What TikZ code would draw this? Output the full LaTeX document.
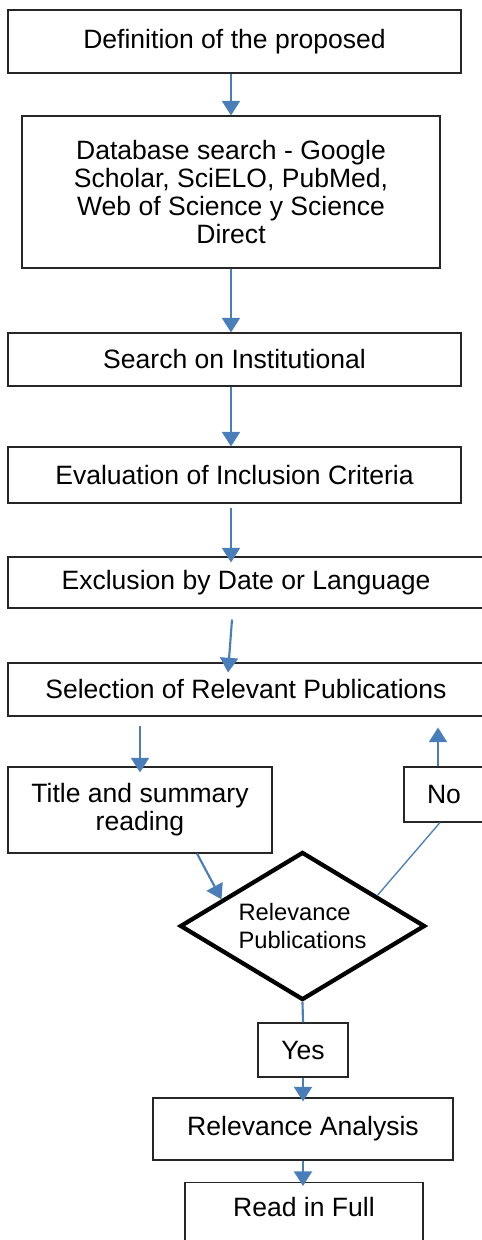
\documentclass[tikz,border=0pt]{standalone}
\usepackage{fontspec}
\setmainfont{Liberation Sans}
\usetikzlibrary{arrows.meta,shapes.geometric,calc}
\definecolor{flowblue}{RGB}{74,126,187}
\begin{document}
\begin{tikzpicture}[x=0.75pt,y=-0.75pt,
  box/.style={draw=black!85,line width=0.8pt,fill=white,inner sep=0pt,align=center,font=\fontsize{19.9}{21}\selectfont},
  decision/.style={diamond,draw=black,line width=3.2pt,fill=white,inner sep=0pt,aspect=1.66,align=left,font=\fontsize{17.8}{21}\selectfont},
  arr/.style={draw=flowblue,line width=1.6pt,-{Triangle[width=13.5pt,length=11pt]}},
  link/.style={draw=flowblue,line width=1.6pt}]
\useasboundingbox (0,0) rectangle (482,1240);
\node[box,minimum width=339.75pt,minimum height=47.25pt] (def) at (234.5,41.5) {Definition of the proposed};
\node[box,minimum width=313.5pt,minimum height=114pt] (dbsearch) at (231,192) {Database search - Google\\Scholar, SciELO, PubMed,\\Web of Science y Science\\Direct};
\node[box,minimum width=339.75pt,minimum height=39.75pt] (inst) at (234.5,359.5) {Search on Institutional};
\node[box,minimum width=339.75pt,minimum height=42pt] (incl) at (234.5,475) {Evaluation of Inclusion Criteria};
\node[box,minimum width=357pt,minimum height=38.25pt] (excl) at (246,582.5) {Exclusion by Date or Language};
\node[box,minimum width=357pt,minimum height=39.75pt] (sel) at (246,689.5) {Selection of Relevant Publications};
\node[box,minimum width=198pt,minimum height=64.5pt] (title) at (140,810) {Title and summary\\reading};
\node[box,minimum width=60pt,minimum height=41.25pt] (no) at (444,794.5) {No};
\node[decision,minimum width=183.75pt,minimum height=111pt] (dia) at (302.5,926) {Relevance\\Publications};
\node[box,minimum width=67.5pt,minimum height=40.5pt] (yes) at (303,1050) {Yes};
\node[box,minimum width=225pt,minimum height=46.5pt] (ra) at (303,1129) {Relevance Analysis};
\node[box,minimum width=178.5pt,text height=25.5pt,text depth=27pt,anchor=north] (full) at (304,1182) {Read in Full};

\draw[arr] (def.south -| dbsearch) -- (dbsearch.north);
\draw[arr] (dbsearch.south) -- (dbsearch.south |- inst.north);
\draw[arr] (dbsearch.south |- inst.south) -- (dbsearch.south |- incl.north);
\draw[arr] ($(incl.south -| dbsearch)+(0,4)$) -- ($(excl.north -| dbsearch)+(0,6)$);
\draw[arr] ($(excl.south -| dbsearch)+(1,11)$) -- ($(sel.north -| dbsearch)+(-3,10)$);
\draw[arr] ($(sel.south -| title)+(0,9)$) -- ($(title.north)+(0,6)$);
\draw[arr] ($(no.north)+(-6,0)$) -- ($(sel.south -| no)+(-6,11)$);
\draw[draw=flowblue,line width=1pt] ($(no.south)+(-4,0)$) -- ($(dia.north)!0.6!(dia.east)$);
\draw[arr] ($(title.south)+(57,0)$) -- ($(dia.west)!0.35!(dia.north)$);
\draw[link] (dia.south) -- (yes.north);
\draw[arr,shorten >=-3pt] (yes.south) -- (ra.north);
\draw[arr,shorten >=-3pt] (ra.south) -- (ra.south |- full.north);
\end{tikzpicture}
\end{document}
